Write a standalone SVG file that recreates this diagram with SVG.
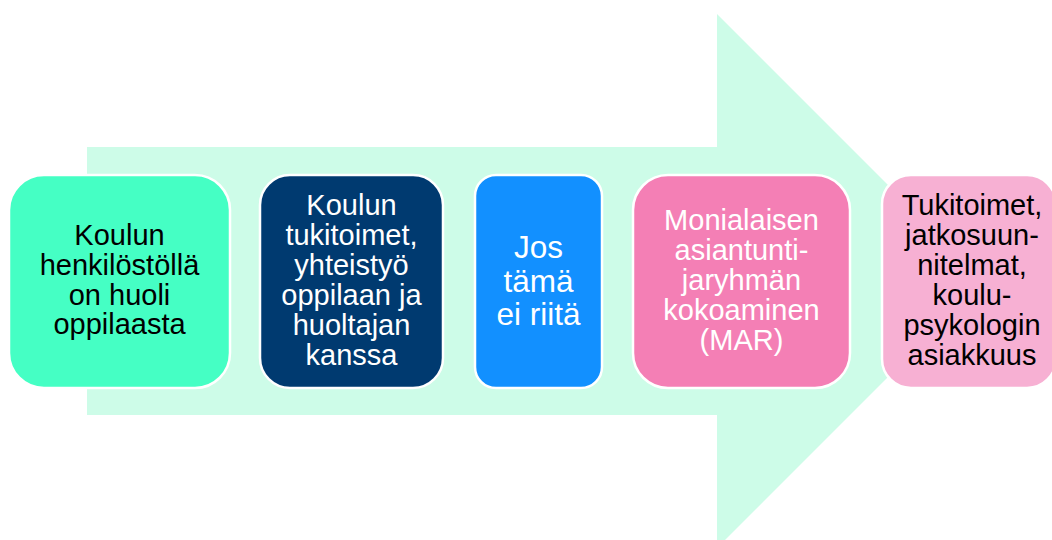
<svg xmlns="http://www.w3.org/2000/svg" width="1052" height="540" viewBox="0 0 1052 540">
<style>
.box{stroke:#ffffff;stroke-width:2.5}
.t{font-family:"Liberation Sans",Arial,sans-serif;font-size:29px;text-anchor:middle}
.dark{fill:#000000}
.light{fill:#ffffff}
</style>
<rect width="1052" height="540" fill="#ffffff"/>
<g id="connectors">
<polygon id="arrow" points="87,147 717,147 717,14 984,281 717,548 717,415 87,415" fill="#cdfce8"/>
</g>
<g id="node1">
<rect class="box" x="9" y="175" width="221" height="213" rx="35" fill="#45ffc4"/>
<text class="t dark" x="119.5"><tspan x="119.5" y="245">Koulun</tspan><tspan x="119.5" y="275">henkilöstöllä</tspan><tspan x="119.5" y="305">on huoli</tspan><tspan x="119.5" y="334">oppilaasta</tspan></text>
</g>
<g id="node2">
<rect class="box" x="260" y="175" width="183" height="213" rx="30" fill="#003a70"/>
<text class="t light" x="351.5"><tspan x="351.5" y="215">Koulun</tspan><tspan x="351.5" y="245">tukitoimet,</tspan><tspan x="351.5" y="275">yhteistyö</tspan><tspan x="351.5" y="305">oppilaan ja</tspan><tspan x="351.5" y="335">huoltajan</tspan><tspan x="351.5" y="365">kanssa</tspan></text>
</g>
<g id="node3">
<rect class="box" x="475" y="175" width="127" height="213" rx="21" fill="#1290ff"/>
<text class="t light" x="538.5" style="font-size:31.5px"><tspan x="538.5" y="258">Jos</tspan><tspan x="538.5" y="292">tämä</tspan><tspan x="538.5" y="325">ei riitä</tspan></text>
</g>
<g id="node4">
<rect class="box" x="633" y="175" width="217" height="213" rx="35" fill="#f47fb5"/>
<text class="t light" x="741.5"><tspan x="741.5" y="230">Monialaisen</tspan><tspan x="741.5" y="260">asiantunti-</tspan><tspan x="741.5" y="290">jaryhmän</tspan><tspan x="741.5" y="320">kokoaminen</tspan><tspan x="741.5" y="350">(MAR)</tspan></text>
</g>
<g id="node5">
<rect class="box" x="882" y="175" width="174" height="213" rx="29" fill="#f7b0d3"/>
<text class="t dark" x="972"><tspan x="972" y="215">Tukitoimet,</tspan><tspan x="972" y="245">jatkosuun-</tspan><tspan x="972" y="275">nitelmat,</tspan><tspan x="972" y="305">koulu-</tspan><tspan x="972" y="335">psykologin</tspan><tspan x="972" y="365">asiakkuus</tspan></text>
</g>
</svg>
